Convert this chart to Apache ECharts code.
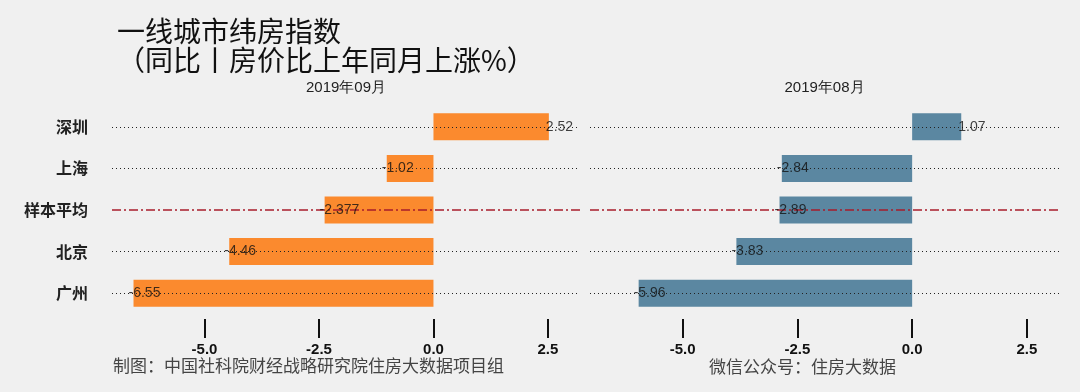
<!DOCTYPE html>
<html>
<head>
<meta charset="utf-8">
<script src="https://cdn.jsdelivr.net/npm/echarts@6/dist/echarts.min.js"></script>
<style>
html,body{margin:0;padding:0;background:#f0f0f0;}
#chart{width:1080px;height:392px;}
</style>
</head>
<body>
<div id="chart"></div>
<script>
// ---- data ----
const categories = ['深圳', '上海', '样本平均', '北京', '广州'];
const sep2019 = [2.52, -1.02, -2.377, -4.46, -6.55];
const aug2019 = [1.07, -2.84, -2.89, -3.83, -5.96];
const panelTitles = ['2019年09月', '2019年08月'];
const tickValues = [-5, -2.5, 0, 2.5];
const meanCategory = '样本平均';
const titleText = '一线城市纬房指数\n（同比丨房价比上年同月上涨%）';
const captionLeft = '制图：中国社科院财经战略研究院住房大数据项目组';
const captionRight = '微信公众号：住房大数据';

// ---- styling ----
const colors = ['#fb8a2e', '#5b87a1'];
const seriesData = [sep2019, aug2019];
const grids = [
  {left: 112, top: 106, width: 468, height: 208},
  {left: 590, top: 106, width: 469, height: 208}
];
const cjk = '"Noto Sans CJK SC", sans-serif';
const latin = '"Liberation Sans", Arial, sans-serif';

const xAxes = grids.map((g, i) => ({
  type: 'value', gridIndex: i, min: -7.02, max: 3.2,
  offset: 5,
  axisLine: {show: false},
  splitLine: {show: false},
  axisTick: {show: true, length: 19, customValues: tickValues, lineStyle: {color: '#111', width: 2}},
  axisLabel: {show: true, customValues: tickValues, margin: 23, fontFamily: latin, fontWeight: 'bold', fontSize: 15, color: '#111',
    formatter: v => v.toFixed(1)}
}));
const yAxes = grids.map((g, i) => ({
  type: 'category', gridIndex: i, data: categories, inverse: true,
  axisLine: {show: false}, axisTick: {show: false}, splitLine: {show: false},
  axisLabel: {show: i === 0, margin: 24, fontFamily: cjk, fontWeight: 'bold', fontSize: 16, color: '#222'}
}));

const series = [];
grids.forEach((g, i) => {
  // dotted guide lines behind the bars
  series.push({
    type: 'line', xAxisIndex: i, yAxisIndex: i, data: [], z: 1, silent: true,
    markLine: {
      silent: true, symbol: 'none', label: {show: false}, animation: false,
      lineStyle: {color: '#222', type: [1, 3], width: 1},
      data: categories.filter(c => c !== meanCategory).map(c => ({yAxis: c}))
    }
  });
  series.push({
    type: 'bar', xAxisIndex: i, yAxisIndex: i, z: 2,
    data: seriesData[i], barWidth: 27,
    itemStyle: {color: colors[i]},
    animation: false
  });
  // mean line on top
  series.push({
    type: 'line', xAxisIndex: i, yAxisIndex: i, data: [], z: 5, silent: true,
    markLine: {
      silent: true, symbol: 'none', label: {show: false}, animation: false,
      lineStyle: {color: '#a81c2b', type: [9, 3, 2, 3], width: 1.5},
      data: [{yAxis: meanCategory}]
    }
  });
  // value labels
  series.push({
    type: 'scatter', xAxisIndex: i, yAxisIndex: i, z: 6, symbolSize: 0, silent: true,
    animation: false,
    data: seriesData[i].map((v, k) => ({
      value: [v, categories[k]],
      label: {offset: [v < 0 ? -5 : -3, 0]}
    })),
    label: {show: true, position: 'inside', align: 'left', verticalAlign: 'middle',
      fontFamily: latin, fontSize: 14, color: '#111',
      formatter: p => String(p.value[0])}
  });
});

const graphics = [];
grids.forEach((g, i) => {
  graphics.push({type: 'text', x: g.left + g.width / 2, y: 88,
    style: {text: panelTitles[i], textAlign: 'center', textVerticalAlign: 'middle',
      fontFamily: latin, fontSize: 15, fill: '#222'}});
});
graphics.push({type: 'text', x: 113, y: 366, style: {text: captionLeft, textVerticalAlign: 'middle', fontFamily: cjk, fontSize: 17, fill: '#444'}});
graphics.push({type: 'text', x: 709, y: 367, style: {text: captionRight, textVerticalAlign: 'middle', fontFamily: cjk, fontSize: 17, fill: '#444'}});

const chart = echarts.init(document.getElementById('chart'), null, {renderer: 'canvas'});
chart.setOption({
  backgroundColor: '#f0f0f0',
  animation: false,
  title: {text: titleText, left: 112, top: 12,
    textStyle: {fontFamily: cjk, fontWeight: 'normal', fontSize: 28, lineHeight: 29, color: '#111'}},
  grid: grids,
  xAxis: xAxes,
  yAxis: yAxes,
  series: series,
  graphic: graphics
});
</script>
</body>
</html>
